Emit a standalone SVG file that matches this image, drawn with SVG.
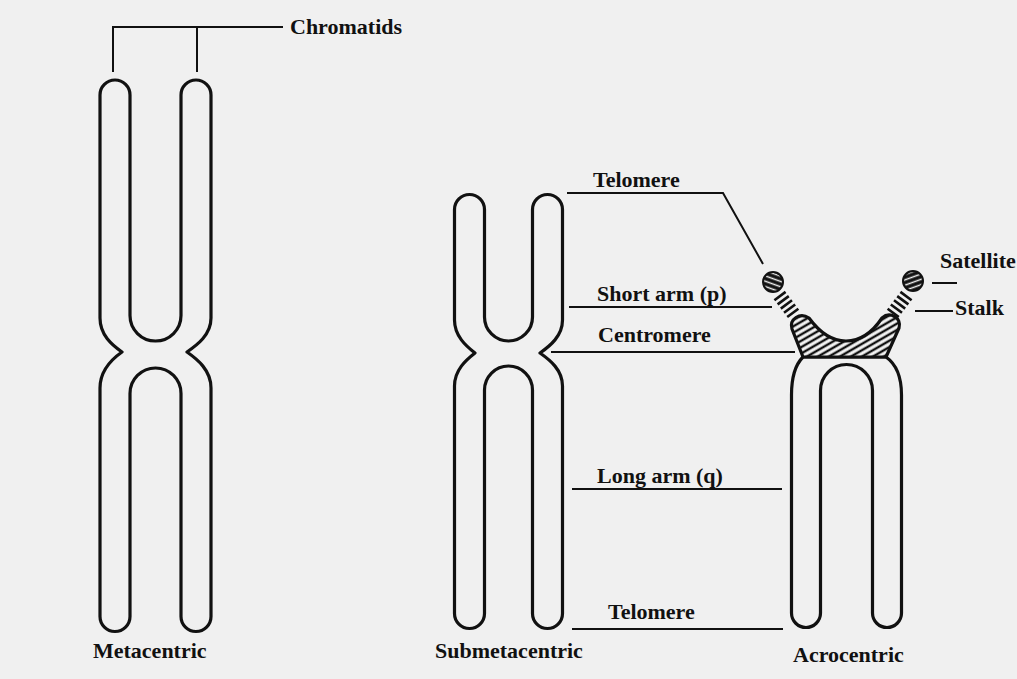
<svg xmlns="http://www.w3.org/2000/svg" width="1017" height="679" viewBox="0 0 1017 679">
  <style>
    .bg { fill: #f0f0f0; }
    .chromo { fill: none; stroke: #111; stroke-width: 3.2; stroke-linejoin: round; }
    .lead { fill: none; stroke: #111; stroke-width: 2; }
    .rung { fill: none; stroke: #111; stroke-width: 2.6; stroke-linecap: butt; }
    .lbl { font-family: "Liberation Serif", "Times New Roman", serif; font-weight: bold; font-size: 22px; fill: #111; }
  </style>
  <defs>
    <!-- diagonal hatching for the centromere -->
    <pattern id="hatch" patternUnits="userSpaceOnUse" width="6" height="5.5" patternTransform="rotate(-30)">
      <rect width="6" height="5.5" fill="#f4f4f4"/>
      <line x1="0" y1="2.75" x2="6" y2="2.75" stroke="#111" stroke-width="2.4"/>
    </pattern>
    <!-- striped satellite bodies -->
    <pattern id="stripeL" patternUnits="userSpaceOnUse" width="6" height="5" patternTransform="rotate(20)">
      <rect width="6" height="5" fill="#111"/>
      <line x1="0" y1="2.5" x2="6" y2="2.5" stroke="#f4f4f4" stroke-width="1.5"/>
    </pattern>
    <pattern id="stripeR" patternUnits="userSpaceOnUse" width="6" height="5" patternTransform="rotate(-20)">
      <rect width="6" height="5" fill="#111"/>
      <line x1="0" y1="2.5" x2="6" y2="2.5" stroke="#f4f4f4" stroke-width="1.5"/>
    </pattern>
  </defs>

  <rect class="bg" x="0" y="0" width="1017" height="679"/>

  <!-- metacentric chromosome -->
  <g id="metacentric">
    <path class="chromo" d="M100,95 A15,15 0 0 1 130,95 V315.5 A25.5,25.5 0 0 0 181,315.5 V95 A15,15 0 0 1 211,95 V318 C211,335 197,345 187,352 C197,359 211,370 211,388 V616.5 A15,15 0 0 1 181,616.5 V393.5 A25.5,25.5 0 0 0 130,393.5 V616.5 A15,15 0 0 1 100,616.5 V388 C100,370 112,359 122,352 C112,345 100,335 100,318 Z"/>
    <text class="lbl" x="93" y="658">Metacentric</text>
  </g>

  <!-- submetacentric chromosome -->
  <g id="submetacentric">
    <path class="chromo" d="M454.5,209.5 A15,15 0 0 1 484.5,209.5 V317 A24,24 0 0 0 532.5,317 V209.5 A15,15 0 0 1 562.5,209.5 V320 C562.5,336 550,346 540,353 C550,360 562.5,370 562.5,386 V613.5 A15,15 0 0 1 532.5,613.5 V390 A24,24 0 0 0 484.5,390 V613.5 A15,15 0 0 1 454.5,613.5 V386 C454.5,370 466,360 475,353 C466,346 454.5,336 454.5,320 Z"/>
    <text class="lbl" x="435" y="658">Submetacentric</text>
  </g>

  <!-- acrocentric chromosome with satellites -->
  <g id="acrocentric">
    <path class="chromo" d="M803,357 C796,364 791.5,375 791.5,395 V613 A14.5,14.5 0 0 0 820.5,613 V390.5 A26,26 0 0 1 872.5,390.5 V613 A14.5,14.5 0 0 0 901.5,613 V395 C901.5,375 896,364 886,357 Z"/>
    <path d="M803,357 L792,329 C789,319 800,312 809,318 C820,333 832,341 846,341 C860,341 872,333 882,318 C890,311 902,318 899,328 L886,357 Z" fill="url(#hatch)" stroke="#111" stroke-width="3.2" stroke-linejoin="round"/>
    <path class="rung" d="M774.4,300.2 L785.6,291.9 M777.6,304.4 L788.8,296.1 M780.8,308.6 L792,300.3 M784,312.8 L795.2,304.5 M787.2,317 L798.4,308.7"/>
    <path class="rung" d="M911.6,300.2 L900.4,291.9 M908.4,304.4 L897.2,296.1 M905.2,308.6 L894,300.3 M902,312.8 L890.8,304.5 M898.8,317 L887.6,308.7"/>
    <circle cx="773" cy="282" r="10" fill="url(#stripeL)" stroke="#111" stroke-width="2"/>
    <circle cx="913" cy="281" r="10" fill="url(#stripeR)" stroke="#111" stroke-width="2"/>
    <text class="lbl" x="793" y="662">Acrocentric</text>
  </g>

  <!-- label leaders -->
  <g id="connectors">
    <path class="lead" d="M113,72 V27 H283 M197,27 V72"/>
    <path class="lead" d="M567,193 H723 L763,264"/>
    <path class="lead" d="M569,307 H772"/>
    <path class="lead" d="M551,352 H795"/>
    <path class="lead" d="M572,489 H782"/>
    <path class="lead" d="M572,629 H783"/>
    <path class="lead" d="M932,283 H957"/>
    <path class="lead" d="M915,311 H953"/>
  </g>

  <!-- labels -->
  <g id="labels">
    <text class="lbl" x="290" y="34">Chromatids</text>
    <text class="lbl" x="593" y="187">Telomere</text>
    <text class="lbl" x="597" y="301">Short arm (p)</text>
    <text class="lbl" x="598" y="342">Centromere</text>
    <text class="lbl" x="597" y="483">Long arm (q)</text>
    <text class="lbl" x="608" y="619">Telomere</text>
    <text class="lbl" x="940" y="268">Satellite</text>
    <text class="lbl" x="955" y="315">Stalk</text>
  </g>
</svg>
